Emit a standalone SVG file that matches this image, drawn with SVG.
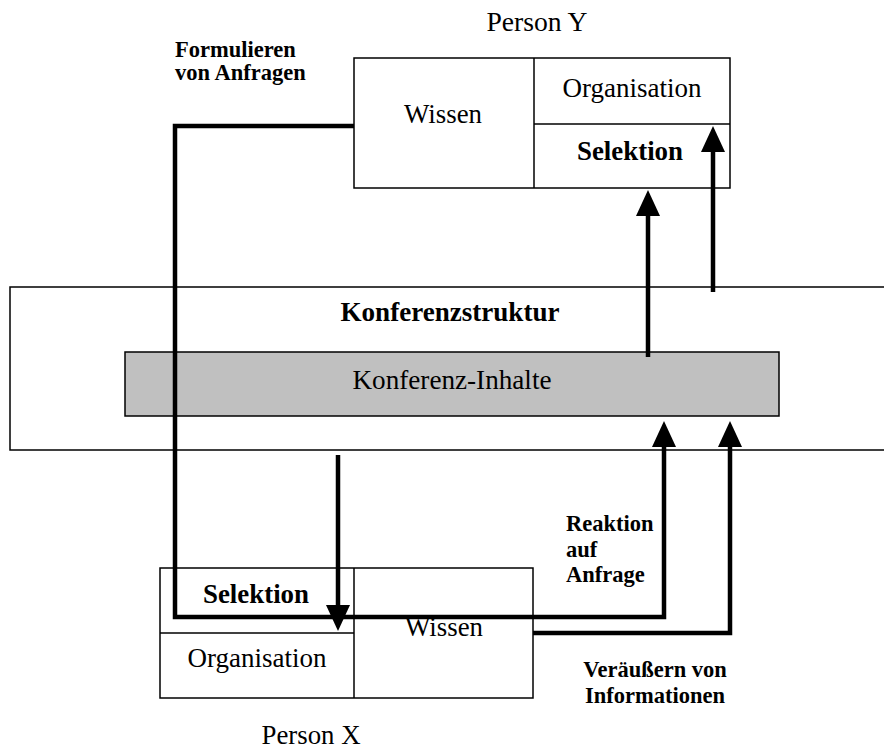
<svg xmlns="http://www.w3.org/2000/svg" width="884" height="751" viewBox="0 0 884 751">
<style>
text{font-family:"Liberation Serif","Times New Roman",serif;fill:#000}
.t{font-size:28px;text-anchor:middle}
.b{font-size:28px;font-weight:bold;text-anchor:middle}
.s{font-size:22.5px;font-weight:bold}
.box{fill:#fff;stroke:#000;stroke-width:1.5}
.div{stroke:#000;stroke-width:1.5;fill:none}
.con{fill:none;stroke:#000;stroke-width:4.5;stroke-linejoin:miter}
.arr{marker-end:url(#ah)}
</style>
<defs>
<marker id="ah" markerUnits="userSpaceOnUse" viewBox="0 0 26 24" markerWidth="26" markerHeight="24" refX="10" refY="12" orient="auto">
<path d="M0,0 L26,12 L0,24 z" fill="#000"/>
</marker>
</defs>
<rect width="884" height="751" fill="#fff"/>
<g id="konferenzstruktur">
<rect class="box" x="10" y="287" width="900" height="163"/>
<text class="b" x="450" y="321" textLength="219" lengthAdjust="spacingAndGlyphs">Konferenzstruktur</text>
</g>
<g id="konferenz-inhalte">
<rect x="125" y="352" width="654" height="64" fill="#c0c0c0" stroke="#000" stroke-width="1.5"/>
<text class="t" x="452" y="389" textLength="199" lengthAdjust="spacingAndGlyphs">Konferenz-Inhalte</text>
</g>
<g id="person-y">
<text class="t" x="537" y="31" textLength="101" lengthAdjust="spacingAndGlyphs">Person Y</text>
<rect class="box" x="354" y="58" width="376" height="130"/>
<line class="div" x1="534" y1="58" x2="534" y2="188"/>
<line class="div" x1="534" y1="124" x2="730" y2="124"/>
<text class="t" x="443" y="123" textLength="78" lengthAdjust="spacingAndGlyphs">Wissen</text>
<text class="t" x="632" y="97" textLength="139" lengthAdjust="spacingAndGlyphs">Organisation</text>
<text class="b" x="630" y="160" textLength="106" lengthAdjust="spacingAndGlyphs">Selektion</text>
</g>
<g id="person-x">
<text class="t" x="311" y="744" textLength="99" lengthAdjust="spacingAndGlyphs">Person X</text>
<rect class="box" x="160" y="568" width="373" height="130"/>
<line class="div" x1="354" y1="568" x2="354" y2="698"/>
<line class="div" x1="160" y1="633" x2="354" y2="633"/>
<text class="b" x="256" y="603" textLength="106" lengthAdjust="spacingAndGlyphs">Selektion</text>
<text class="t" x="257" y="667" textLength="139" lengthAdjust="spacingAndGlyphs">Organisation</text>
<text class="t" x="444" y="636" textLength="78" lengthAdjust="spacingAndGlyphs">Wissen</text>
</g>
<g id="labels">
<text class="s" x="175" y="57">Formulieren</text>
<text class="s" x="175" y="80">von Anfragen</text>
<text class="s" x="566" y="531">Reaktion</text>
<text class="s" x="566" y="557">auf</text>
<text class="s" x="566" y="582">Anfrage</text>
<text class="s" x="655" y="677" text-anchor="middle">Veräußern von</text>
<text class="s" x="655" y="703" text-anchor="middle">Informationen</text>
</g>
<g id="connectors">
<path class="con arr" d="M354,126 H175 V617 H664 V437"/>
<path class="con arr" d="M533,633 H730 V437"/>
<path class="con arr" d="M338,455 V615"/>
<path class="con arr" d="M648,357 V206"/>
<path class="con arr" d="M713,292 V142"/>
</g>
</svg>
